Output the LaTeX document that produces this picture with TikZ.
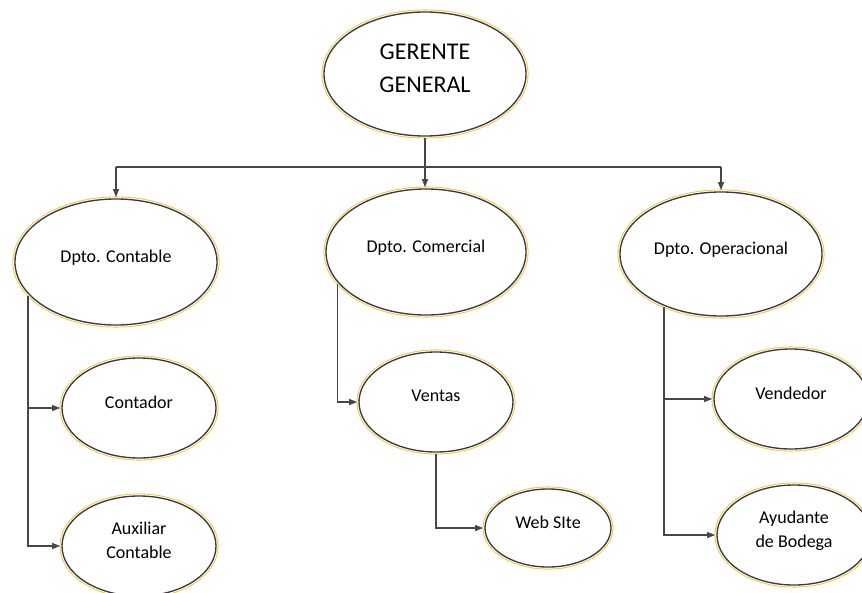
\documentclass[tikz,border=0pt]{standalone}
\usepackage{fontspec}
\setmainfont{Carlito}
\usepackage{xcolor}
\usepackage{tikz}
\usetikzlibrary{positioning, arrows.meta, shapes.geometric, calc}
\definecolor{ringGold}{HTML}{F4C43C}
\definecolor{ringDark}{HTML}{3A3A3A}
\definecolor{lineGray}{HTML}{474747}

\begin{document}
\begin{tikzpicture}[x=0.75pt, y=-0.75pt,
    unit/.style={ellipse, inner sep=0pt, outer sep=1.4pt, fill=white, draw=ringDark,
                 line width=1pt, preaction={draw=ringGold, line width=3.8pt},
                 preaction={draw=white, line width=2.4pt}, align=center,
                 text depth=9pt, font=\fontsize{13.5}{18}\selectfont},
    dims/.style 2 args={minimum width=#1, minimum height=#2},
    link/.style={draw=lineGray, line width=1pt, -{Triangle[length=6pt, width=4.5pt]}}]
  \useasboundingbox (0,0) rectangle (862,592);
  % top and departments
  \node[unit, dims={151.5pt}{93pt}, font=\fontsize{18}{24.75}\selectfont]
    (gerente) at (425,74) {GERENTE\\GENERAL};
  \node[unit, dims={151.5pt}{94.5pt}] (contable) at (116,262) {Dpto. Contable};
  \node[unit, dims={150pt}{94.5pt}] (comercial) at (426,252) {Dpto. Comercial};
  \node[unit, dims={151.5pt}{93pt}] (operacional) at (721,254) {Dpto. Operacional};
  % staff
  \node[unit, dims={115.5pt}{75pt}] (contador) at (139,408) {Contador};
  \node[unit, dims={115.5pt}{75pt}] (auxiliar) at (139,546) {Auxiliar\\Contable};
  \node[unit, dims={115.5pt}{75pt}] (ventas) at (436,402) {Ventas};
  \node[unit, dims={94.5pt}{58.5pt}] (web) at (548,528) {Web SIte};
  \node[unit, dims={115.5pt}{75pt}] (vendedor) at (791,399) {Vendedor};
  \node[unit, dims={115.5pt}{75pt}] (ayudante) at (794,535) {Ayudante\\de Bodega};

  \coordinate (bus) at (425,167);
  \draw[link] (gerente.south) -- (gerente.south |- comercial.north);
  \draw[lineGray, line width=1pt] (bus -| contable.north) -- (bus -| operacional.north);
  \foreach \d in {contable, operacional}
    { \draw[link] (bus -| \d.north) -- (\d.north); }
  \foreach \s/\t in {contable.201/contador, contable.201/auxiliar, comercial.200/ventas,
                     operacional.223/vendedor, operacional.223/ayudante}
    { \draw[link] (\s) |- (\t.west); }
  \draw[link] (ventas.south) |- (web.west);
\end{tikzpicture}
\end{document}
